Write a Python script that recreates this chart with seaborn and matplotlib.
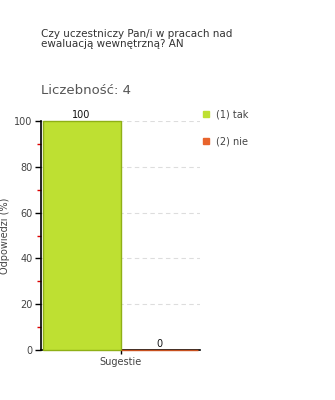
import matplotlib
matplotlib.use("Agg")
import matplotlib.pyplot as plt
import seaborn as sns
import pandas as pd
from matplotlib.ticker import MultipleLocator
from matplotlib.lines import Line2D

categories = ["Sugestie"]
series = ["(1) tak", "(2) nie"]
values = [100, 0]
colors = ["#BEE032", "#E8642C"]
edges = ["#8FB016", "#C8501E"]

df = pd.DataFrame({"cat": categories * len(series), "series": series, "value": values})

sns.set_style("white")
plt.rcParams['font.family'] = ['DejaVu Sans']

fig = plt.figure(figsize=(3.35, 4.0), dpi=100)
ax = fig.add_axes([41/335, 1-350/400, (200-41)/335, (350-121)/400])

sns.barplot(data=df, x="cat", y="value", hue="series", palette=colors, saturation=1,
            width=0.98, ax=ax, legend=False, zorder=3)
for patch, ec in zip(ax.patches, edges):
    patch.set_edgecolor(ec)
    patch.set_linewidth(1.0)
    patch.set_clip_on(False)

for patch, v in zip(ax.patches, values):
    ax.text(patch.get_x() + patch.get_width()/2, v + 0.5, f"{v}", ha="center", va="bottom",
            fontsize=7, color="#111111")

ax.set_xlim(-0.5, 0.5)
ax.set_ylim(0, 100)
ax.yaxis.set_major_locator(MultipleLocator(20))
ax.yaxis.set_minor_locator(MultipleLocator(10))
ax.tick_params(axis="y", which="major", direction="out", length=4, width=1, color="black",
               labelsize=7, labelcolor="#444444", left=True, pad=2)
ax.tick_params(axis="y", which="minor", direction="out", length=3, width=1, color="#DD0000", left=True)
ax.tick_params(axis="x", direction="out", length=3, width=1, color="black", labelsize=7,
               labelcolor="#444444", bottom=True, pad=2)
ax.grid(axis="y", which="major", linestyle=(0, (4, 3)), color="#DDDDDD", linewidth=0.8, zorder=0)
ax.set_axisbelow(True)
for s in ["top", "right"]:
    ax.spines[s].set_visible(False)
for s in ["left", "bottom"]:
    ax.spines[s].set_color("black")
    ax.spines[s].set_linewidth(1.2)
    ax.spines[s].set_zorder(2)
ax.set_xlabel("")
ax.set_ylabel("Odpowiedzi (%)", fontsize=7, color="#444444", labelpad=3)

fig.text(41/335, 1-39/400, "Czy uczestniczy Pan/i w pracach nad\newaluacją wewnętrzną? AN",
         fontsize=7.5, color="#333333", va="center", ha="left", linespacing=1.1)
fig.text(41/335, 1-91/400, "Liczebność: 4", fontsize=9.5, color="#555555", va="center", ha="left")

handles = [Line2D([], [], marker="s", linestyle="none", markersize=5, markerfacecolor=c,
                  markeredgecolor=c) for c in colors]
fig.legend(handles, series, loc="upper left", bbox_to_anchor=(198/335, 1-106/400),
           frameon=False, fontsize=7, handlelength=0.8, handletextpad=0.6, labelspacing=1.7,
           labelcolor="#444444", borderaxespad=0)

fig.savefig("out.png", dpi=100)
